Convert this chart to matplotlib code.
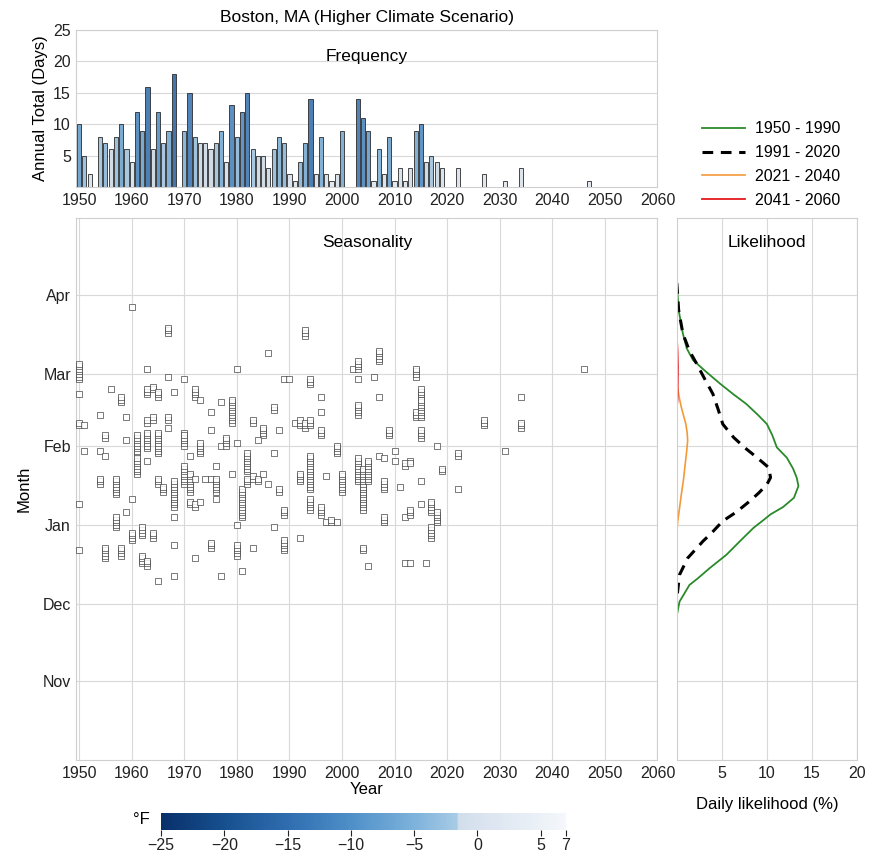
import matplotlib
matplotlib.use("Agg")
import matplotlib.pyplot as plt
import numpy as np
from matplotlib.colors import LinearSegmentedColormap, Normalize
from matplotlib.cm import ScalarMappable
from matplotlib.lines import Line2D

plt.rcParams['font.family'] = ['Liberation Sans', 'DejaVu Sans']

# ---------------- data ----------------
freq_years = list(range(1950, 2020)) + [2022, 2027, 2031, 2034, 2047]
freq_vals = [10, 5, 2, 0, 8, 7, 6, 8, 10, 6,
             4, 12, 9, 16, 6, 12, 7, 9, 18, 0,
             9, 15, 8, 7, 7, 6, 7, 9, 4, 13,
             8, 12, 15, 6, 5, 5, 3, 6, 8, 7,
             2, 1, 4, 7, 14, 2, 8, 2, 1, 2,
             9, 0, 0, 14, 11, 9, 1, 6, 2, 8,
             1, 3, 1, 3, 9, 10, 4, 5, 4, 3,
             3, 2, 1, 3, 1]
# colour value of each year's bar (deg F)
freq_temp = [-8, -3, 3, 0, -2, -4, -1, -3, -7, -2,
             2, -12, -7, -15, -1, -10, -2, -6, -17, 0,
             -5, -14, -3, -1, 0, -1, -2, -6, 2, -12,
             -4, -11, -14, -2, -1, -1, 0, -3, -5, -4,
             3, 4, -4, -6, -15, 3, -6, 3, 5, 2,
             -6, 0, 0, -14, -12, -8, 4, -5, 3, -7,
             5, 2, 4, 1, -6, -11, -1, -2, -1, 2,
             3, 4, 5, 3, 5]

# seasonality events: (year, first day since Oct 1, number of consecutive days)
events = [
    (1950, 149, 7), (1950, 143, 1), (1950, 131, 2), (1950, 100, 1), (1950, 82, 1),
    (1960, 177, 1), (1967, 167, 3), (1963, 153, 1), (1967, 150, 1), (1970, 149, 1),
    (1956, 145, 1), (1958, 140, 3), (1963, 143, 3), (1964, 145, 2), (1965, 142, 3),
    (1968, 144, 1), (1954, 135, 1), (1959, 134, 1), (1963, 132, 2), (1964, 133, 2),
    (1967, 133, 2), (1951, 131, 1), (1967, 130, 1), (1970, 128, 1), (1955, 126, 2),
    (1959, 125, 1), (1961, 120, 8), (1963, 122, 7), (1965, 120, 9), (1951, 121, 1),
    (1954, 121, 1), (1955, 119, 1), (1961, 112, 7), (1963, 117, 1), (1970, 108, 8),
    (1954, 108, 3), (1957, 104, 7), (1965, 108, 3), (1966, 105, 3), (1968, 99, 11),
    (1960, 102, 1), (1959, 97, 1), (1957, 91, 5), (1968, 95, 1), (1960, 86, 4),
    (1962, 88, 4), (1964, 87, 3), (1968, 84, 1), (1955, 79, 5), (1958, 80, 4),
    (1962, 77, 4), (1963, 76, 3), (1968, 72, 1), (1965, 70, 1),
    (1986, 159, 1), (1980, 153, 1), (1989, 149, 1), (1990, 149, 1), (1972, 142, 4),
    (1973, 141, 1), (1975, 136, 1), (1977, 140, 1), (1979, 132, 10), (1983, 132, 2),
    (1985, 127, 4), (1987, 137, 2), (1988, 129, 1), (1991, 132, 1), (1970, 123, 5),
    (1973, 120, 5), (1975, 129, 1), (1977, 123, 1), (1978, 123, 4), (1980, 124, 1),
    (1984, 125, 1), (1971, 119, 1), (1982, 113, 8), (1987, 120, 1), (1976, 115, 1),
    (1971, 105, 8), (1972, 110, 1), (1974, 110, 1), (1975, 110, 1), (1976, 105, 6),
    (1979, 112, 1), (1981, 95, 12), (1982, 108, 3), (1983, 110, 2), (1984, 109, 2),
    (1985, 112, 1), (1986, 108, 1), (1988, 105, 2), (1992, 109, 4), (1971, 100, 2),
    (1972, 99, 2), (1973, 101, 1), (1976, 102, 1), (1989, 96, 3), (1980, 92, 1),
    (1987, 91, 1), (1975, 83, 3), (1980, 80, 5), (1983, 83, 1), (1989, 82, 5),
    (1972, 79, 1), (1977, 72, 1), (1981, 74, 1),
    (1993, 166, 3), (2002, 153, 1), (2007, 156, 5), (2003, 153, 4), (1994, 147, 3),
    (2006, 150, 1), (2003, 149, 1), (2007, 142, 1), (1996, 142, 1), (1996, 136, 1),
    (2003, 135, 5), (1992, 131, 3), (1993, 130, 3), (1994, 131, 3), (1996, 127, 3),
    (2009, 127, 3), (1999, 120, 4), (2010, 121, 1), (1994, 106, 14), (1997, 111, 1),
    (2000, 105, 8), (2003, 109, 10), (2004, 98, 17), (2005, 109, 9), (2007, 119, 1),
    (2008, 118, 1), (2008, 106, 4), (2010, 117, 1), (2011, 107, 1), (2013, 117, 1),
    (1994, 98, 5), (1996, 96, 4), (1997, 93, 1), (1998, 93, 2), (1999, 93, 1),
    (2008, 93, 3), (2012, 95, 1), (1992, 87, 1), (2004, 82, 2), (2005, 76, 1),
    (2012, 77, 1),
    (2014, 150, 4), (2015, 142, 4), (2014, 134, 3), (2015, 134, 8), (2015, 126, 4),
    (2018, 123, 1), (2022, 119, 2), (2027, 131, 3), (2034, 142, 1), (2034, 130, 3),
    (2031, 121, 1), (2046, 153, 1), (2012, 115, 2), (2013, 116, 1), (2015, 109, 1),
    (2019, 113, 2), (2022, 106, 1), (2015, 100, 1), (2017, 97, 5), (2018, 93, 5),
    (2013, 96, 3), (2017, 87, 5), (2013, 77, 1), (2016, 77, 1),
]

month_labels = ['Nov', 'Dec', 'Jan', 'Feb', 'Mar', 'Apr']
month_days = [31, 61, 92, 123, 151, 182]

# likelihood curves (day since Oct 1, daily likelihood %)
g_day = [186.5, 176, 166.8, 161, 156.4, 152, 147.2, 143, 139.3, 135, 131.4, 127, 122.3,
         118.3, 114, 110.5, 107.2, 102.6, 99, 96.1, 93, 90.8, 85.6, 80.3, 75.1, 71,
         68.5, 62.0, 56.7]
g_pct = [0, 0.2, 0.67, 1.1, 1.8, 3.2, 4.8, 6.3, 7.7, 9.0, 10.0, 10.6, 11.1,
         12.2, 12.9, 13.3, 13.5, 13.0, 11.8, 10.4, 9.3, 8.5, 7.0, 5.5, 3.65, 2.3,
         1.4, 0.3, 0]
b_day = [186.5, 176, 166.8, 160, 155, 149, 143.2, 137, 131.4, 126.2, 122, 118.3, 114.4,
         110.5, 107.8, 104.5, 101.3, 97, 93.5, 89, 85.6, 79, 72.5, 63.3]
b_pct = [0, 0.2, 0.67, 1.4, 2.2, 3.1, 4.0, 4.6, 5.1, 6.3, 7.6, 8.9, 10.2,
         10.4, 10.0, 9.1, 8.1, 6.6, 5.1, 3.9, 2.9, 1.2, 0.3, 0]
o_day = [147.2, 142, 138, 134, 131.4, 128, 124.9, 121, 117, 110, 103.9, 98, 93.5, 89.5]
o_pct = [0, 0.25, 0.5, 0.8, 1.0, 1.15, 1.2, 1.1, 0.97, 0.75, 0.5, 0.28, 0.1, 0]
r_day = [165.5, 160, 153.7, 147, 140.6, 138]
r_pct = [0, 0.08, 0.12, 0.1, 0.07, 0]

periods = ['1950 - 1990', '1991 - 2020', '2021 - 2040', '2041 - 2060']

# ---------------- style ----------------
cmap = LinearSegmentedColormap.from_list('tmin', [
    (0.0, '#08306b'), (5 / 32, '#17508f'), (10 / 32, '#2f6db0'), (15 / 32, '#4e8fc8'),
    (20 / 32, '#7db2db'), (23.4 / 32, '#a7cbe5'), (23.6 / 32, '#d2deec'), (1.0, '#f4f7fb')])
norm = Normalize(-25, 7)
grid_c = '#d9d9d9'
spine_c = '#cfcfcf'
fs = 11.5

fig = plt.figure(figsize=(8.79, 8.58), dpi=100)
ax_f = fig.add_axes([0.087, 0.782, 0.661, 0.183])
ax_s = fig.add_axes([0.087, 0.114, 0.661, 0.632])
ax_l = fig.add_axes([0.770, 0.114, 0.205, 0.632])

for ax in (ax_f, ax_s, ax_l):
    for sp in ax.spines.values():
        sp.set_color(spine_c)
        sp.set_linewidth(0.8)
    ax.tick_params(length=0, labelsize=fs, colors='#222222', pad=4)
    ax.set_axisbelow(True)

# frequency panel
bar_cols = []
for t in freq_temp:
    r, g, b, _ = cmap(norm(t))
    # slightly muted, as in the reference rendering
    bar_cols.append((0.8 * r + 0.2 * 0.75, 0.8 * g + 0.2 * 0.78, 0.8 * b + 0.2 * 0.8))
ax_f.bar(freq_years, freq_vals, width=0.8, color=bar_cols,
         edgecolor='#2b2b2b', linewidth=0.6)
ax_f.set_xlim(1949.5, 2060)
ax_f.set_ylim(0, 25)
ax_f.set_yticks([5, 10, 15, 20, 25])
ax_f.set_xticks(range(1950, 2061, 10))
ax_f.grid(axis='y', color=grid_c, linewidth=0.8)
ax_f.set_ylabel('Annual Total (Days)', fontsize=fs + 0.5, labelpad=4)
ax_f.text(0.5, 0.83, 'Frequency', transform=ax_f.transAxes, ha='center', va='center', fontsize=fs + 1)
ax_f.set_title('Boston, MA (Higher Climate Scenario)', fontsize=fs + 1, pad=6)

# seasonality panel
sx, sy = [], []
for yr, d0, n in events:
    for k in range(n):
        sx.append(yr)
        sy.append(d0 + k)
ax_s.scatter(sx, sy, marker='s', s=14, facecolors='white', edgecolors='#3a3a3a',
             linewidths=0.55, alpha=0.85, zorder=3)
ax_s.set_xlim(1949.5, 2060)
ax_s.set_ylim(0, 212)
ax_s.set_xticks(range(1950, 2061, 10))
ax_s.set_yticks(month_days)
ax_s.set_yticklabels(month_labels)
ax_s.grid(color=grid_c, linewidth=0.8)
ax_s.set_xlabel('Year', fontsize=fs + 0.5, labelpad=1)
ax_s.set_ylabel('Month', fontsize=fs + 0.5, labelpad=8)
ax_s.text(0.5, 0.955, 'Seasonality', transform=ax_s.transAxes, ha='center', va='center', fontsize=fs + 1)

# likelihood panel
l1, = ax_l.plot(g_pct, g_day, color='#2a8a2a', lw=1.3)
l2, = ax_l.plot(b_pct, b_day, color='black', lw=2.2, ls=(0, (3.5, 2.5)))
l3, = ax_l.plot(o_pct, o_day, color='#f39a38', lw=1.2)
l4, = ax_l.plot(r_pct, r_day, color='#e3191c', lw=1.3)
ax_l.set_xlim(0, 20)
ax_l.set_ylim(0, 212)
ax_l.set_xticks([5, 10, 15, 20])
ax_l.set_yticks(month_days)
ax_l.set_yticklabels([])
ax_l.grid(color=grid_c, linewidth=0.8)
ax_l.set_xlabel('Daily likelihood (%)', fontsize=fs + 0.5, labelpad=12)
ax_l.text(0.5, 0.955, 'Likelihood', transform=ax_l.transAxes, ha='center', va='center', fontsize=fs + 1)

fig.legend([l1, l2, l3, l4], periods, loc='upper left',
           bbox_to_anchor=(688 / 879, 1 - 107 / 858), frameon=False, fontsize=fs,
           handlelength=2.7, labelspacing=0.55, handletextpad=0.6)

# colorbar
cax = fig.add_axes([161 / 879, 1 - 830 / 858, 405 / 879, 17 / 858])
cb = fig.colorbar(ScalarMappable(norm=norm, cmap=cmap), cax=cax, orientation='horizontal',
                  ticks=[-25, -20, -15, -10, -5, 0, 5, 7])
cb.outline.set_visible(False)
cb.ax.tick_params(labelsize=fs, length=4, width=0.8, colors='#222222', pad=2)
cb.ax.set_xticklabels(['\u221225', '\u221220', '\u221215', '\u221210', '\u22125', '0', '5', '7'])
fig.text(150 / 879, 1 - 820 / 858, '°F', ha='right', va='center', fontsize=fs + 0.5)

fig.savefig('out.png', dpi=100)
